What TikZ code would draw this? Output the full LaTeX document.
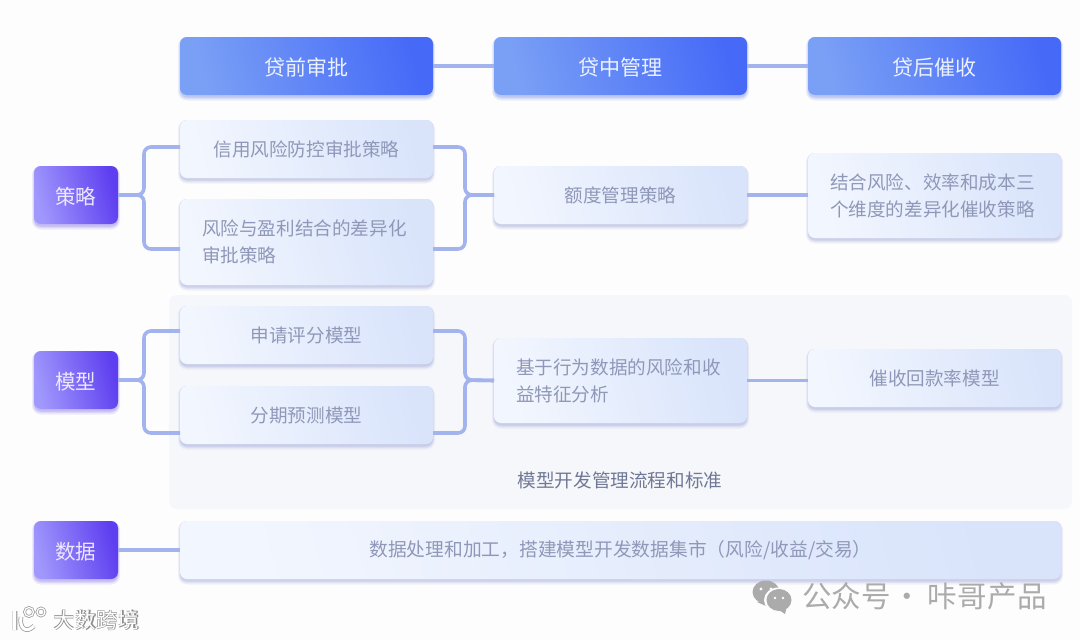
\documentclass[tikz,border=0pt]{standalone}
\usepackage{fontspec}
\setmainfont{Noto Sans CJK SC}
\usetikzlibrary{calc}
\definecolor{bgc}{HTML}{FDFDFE}
\definecolor{panelc}{HTML}{F6F7FB}
\definecolor{linec}{HTML}{A3B3EE}
\definecolor{txtc}{HTML}{8F98B8}
\definecolor{panelt}{HTML}{6F7896}
\definecolor{wmc}{HTML}{ABABAB}
\definecolor{shadc}{HTML}{A9B2DC}
\definecolor{shadb}{HTML}{8FA3EA}
\definecolor{shadp}{HTML}{9C8EE8}
\tikzset{
  x=1pt,y=-1pt,
  basebox/.style={rounded corners=7pt,inner sep=0pt,outer sep=0pt,text centered,
    shading=axis},
  headbox/.style={basebox,minimum width=253pt,minimum height=58pt,
    left color={rgb,255:red,122;green,160;blue,246},right color={rgb,255:red,70;green,106;blue,247},shading angle=105,
    text={rgb,255:red,236;green,241;blue,255},font=\fontsize{21pt}{24pt}\selectfont},
  sidebox/.style={basebox,minimum width=84pt,minimum height=58pt,
    left color={rgb,255:red,160;green,152;blue,252},right color={rgb,255:red,94;green,62;blue,240},shading angle=105,
    text={rgb,255:red,236;green,232;blue,255},font=\fontsize{20.5pt}{24pt}\selectfont},
  itembox/.style={basebox,minimum width=253pt,
    left color={rgb,255:red,242;green,246;blue,254},right color={rgb,255:red,217;green,228;blue,251},shading angle=105,
    text=txtc,font=\fontsize{18.6pt}{27pt}\selectfont},
  twoline/.style={align=left,text width=209pt},
  panelbox/.style={rounded corners=8pt,fill=panelc,draw=none},
  conn/.style={draw=linec,line width=3.6pt,rounded corners=7pt},
  wm/.style={text=wmc,inner sep=0pt,font=\fontsize{29.5pt}{32pt}\selectfont},
}
\newcommand{\softshadow}[5]{%
  \fill[#5,opacity=.16,rounded corners=9pt] (#1-2,#2) rectangle (#3+2,#4+5.5);
  \fill[#5,opacity=.22,rounded corners=8pt] (#1-1,#2) rectangle (#3+1,#4+4);
  \fill[#5,opacity=.35,rounded corners=7pt] (#1,#2) rectangle (#3,#4+2.5);}
\newcommand{\tdown}[2]{\raisebox{-#1pt}[\height][\depth]{#2}}
\begin{document}
\begin{tikzpicture}
\useasboundingbox (0,0) rectangle (1080,640);
\fill[bgc] (0,0) rectangle (1080,640);
\fill[panelbox] (169,295) rectangle (1072,509);
\node[text=panelt,font=\fontsize{18.6pt}{22pt}\selectfont,inner sep=0pt] (paneltext) at (620,480.5) {模型开发管理流程和标准};
% shadows
\softshadow{180}{37}{433}{95}{shadb}
\softshadow{494}{37}{747}{95}{shadb}
\softshadow{808}{37}{1061}{95}{shadb}
\softshadow{34}{166}{118}{224}{shadp}
\softshadow{34}{351}{118}{409}{shadp}
\softshadow{34}{521}{118}{579}{shadp}
\softshadow{180}{120}{433}{178}{shadc}
\softshadow{180}{199}{433}{285}{shadc}
\softshadow{494}{166}{747}{224}{shadc}
\softshadow{808}{153}{1061}{238}{shadc}
\softshadow{180}{306}{433}{364}{shadc}
\softshadow{180}{386}{433}{444}{shadc}
\softshadow{494}{338}{747}{423}{shadc}
\softshadow{808}{349}{1061}{407}{shadc}
\softshadow{180}{521}{1061}{579}{shadc}
% nodes
\node[headbox] (h1) at (306.5,66) {\tdown{1.5}{贷前审批}};
\node[headbox] (h2) at (620.5,66) {\tdown{1.5}{贷中管理}};
\node[headbox] (h3) at (934.5,66) {\tdown{1.5}{贷后催收}};
\node[sidebox] (strat) at (76,195) {\tdown{2}{策略}};
\node[sidebox] (model) at (76,380) {\tdown{2}{模型}};
\node[sidebox] (data) at (76,550) {\tdown{2}{数据}};
\node[itembox,minimum height=58pt] (s1) at (306.5,149) {信用风险防控审批策略};
\node[itembox,minimum height=86pt,twoline] (s2) at (306.5,242) {风险与盈利结合的差异化\\审批策略};
\node[itembox,minimum height=58pt] (s3) at (620.5,195) {额度管理策略};
\node[itembox,minimum height=85pt,twoline] (s4) at (934.5,195.5) {结合风险、效率和成本三\\个维度的差异化催收策略};
\node[itembox,minimum height=58pt] (m1) at (306.5,335) {申请评分模型};
\node[itembox,minimum height=58pt] (m2) at (306.5,415) {分期预测模型};
\node[itembox,minimum height=85pt,twoline] (m3) at (620.5,380.5) {基于行为数据的风险和收\\益特征分析};
\node[itembox,minimum height=58pt] (m4) at (934.5,378) {催收回款率模型};
\node[itembox,minimum height=58pt,minimum width=881pt,font=\fontsize{18.75pt}{27pt}\selectfont] (d1) at (620.5,550) {数据处理和加工，搭建模型开发数据集市（风险/收益/交易）};
% connectors
\draw[conn] (h1.east) -- (h2.west);
\draw[conn] (h2.east) -- (h3.west);
\coordinate (js) at (144,195);
\coordinate (jsr) at (465,195);
\coordinate (jm) at (144,380);
\coordinate (jmr) at (465,380);
\draw[conn] ($(s1.west)+(0,-2)$) -| (js) -- (strat.east);
\draw[conn] ($(s2.west)+(0,7)$) -| (js) -- (strat.east);
\draw[conn] ($(s1.east)+(0,-2)$) -| (jsr) -- (s3.west);
\draw[conn] ($(s2.east)+(0,7)$) -| (jsr) -- (s3.west);
\draw[conn] (s3.east) -- (s3.east -| s4.west);
\draw[conn] ($(m1.west)+(0,-4)$) -| (jm) -- (model.east);
\draw[conn] ($(m2.west)+(0,18)$) -| (jm) -- (model.east);
\draw[conn] ($(m1.east)+(0,-4)$) -| (jmr) -- (m3.west);
\draw[conn] ($(m2.east)+(0,18)$) -| (jmr) -- (m3.west);
\draw[conn] (m3.east) -- (m3.east -| m4.west);
\draw[conn] (data.east) -- (data.east -| d1.west);
% watermark right
\fill[wmc] (766,592) ellipse [x radius=13.5,y radius=11.5];
\fill[wmc] (766,606) -- (757,602) -- (763,600) -- cycle;
\fill[bgc] (778.5,600) ellipse [x radius=14.5,y radius=12.5];
\fill[wmc] (779,600) ellipse [x radius=12.5,y radius=11];
\fill[wmc] (785,614) -- (787,606) -- (779,610) -- cycle;
\fill[bgc] (761,589) circle (1.6) (771,589) circle (1.6) (775,598) circle (1.4) (783,598) circle (1.4);
\node[wm,anchor=west] (wmtext) at (802,596) {公众号\hspace{2pt}·\hspace{5pt}咔\hspace{.5pt}哥\hspace{.5pt}产\hspace{.5pt}品};
% watermark left
\begin{scope}
\draw[black!38,line width=4.6pt] (15,611) -- (15,630) (21,617) .. controls (19,628) and (26,634) .. (34,626);
\draw[black!38,line width=2.8pt] (29,612) circle (4.5) (41,612) circle (4);
\draw[white,line width=3pt] (14.5,611) -- (14.5,630) (21,617) .. controls (19,628) and (26,634) .. (34,626);
\draw[white,line width=1.2pt] (29,612) circle (4.5) (41,612) circle (4);
\end{scope}
\node[inner sep=0pt,text=black!45,font=\fontsize{21.5pt}{24pt}\selectfont\bfseries] (wm2s) at (96.6,620.6) {大数跨境};
\node[inner sep=0pt,text=white,font=\fontsize{21.5pt}{24pt}\selectfont] (wm2) at (96,620) {大数跨境};
\end{tikzpicture}
\end{document}
